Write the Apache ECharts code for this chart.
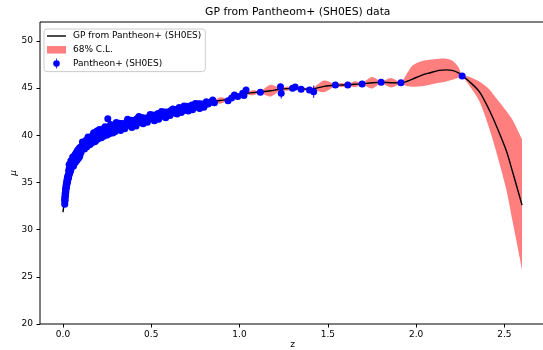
<!DOCTYPE html>
<html>
<head>
<meta charset="utf-8">
<script src="https://cdn.jsdelivr.net/npm/echarts@6/dist/echarts.min.js"></script>
<style>
  html, body { margin: 0; padding: 0; background: #fff; }
  #chart { width: 543px; height: 350px; }
</style>
</head>
<body>
<div id="chart"></div>
<script>
// GP reconstruction (mean + 68% band)
const gpZ = [0, 0.005, 0.01, 0.02, 0.03, 0.05, 0.07, 0.1, 0.15, 0.2,
  0.3, 0.4, 0.5, 0.6, 0.7, 0.76, 0.8, 0.848, 0.89, 0.935,
  0.971, 1.0, 1.037, 1.078, 1.118, 1.175, 1.232, 1.27, 1.3, 1.349,
  1.396, 1.42, 1.48, 1.543, 1.578, 1.613, 1.653, 1.694, 1.75, 1.802,
  1.858, 1.914, 1.95, 1.98, 2.03, 2.075, 2.13, 2.17, 2.21, 2.24,
  2.261, 2.3, 2.358, 2.415, 2.453, 2.51, 2.547, 2.6];
const gpMu = [31.85, 32.5, 33.1, 34.7, 35.6, 36.95, 37.7, 38.55, 39.45, 40.08,
  40.86, 41.37, 41.86, 42.37, 42.86, 43.1, 43.3, 43.55, 43.68, 43.8,
  44.05, 44.22, 44.42, 44.52, 44.58, 44.72, 44.88, 44.94, 44.96, 44.92,
  44.88, 44.92, 45.18, 45.3, 45.32, 45.34, 45.4, 45.45, 45.56, 45.6,
  45.57, 45.55, 45.72, 45.95, 46.35, 46.6, 46.88, 46.93, 46.85, 46.6,
  46.3, 45.72, 44.62, 42.65, 41.06, 38.4, 36.08, 32.6];
const gpLo = [31.6, 32.38, 33.02, 34.64, 35.55, 36.91, 37.66, 38.51, 39.41, 40.04,
  40.82, 41.32, 41.81, 42.31, 42.79, 43.02, 43.22, 43.49, 43.33, 43.7,
  43.93, 44.04, 44.32, 44.24, 44.48, 44.1, 44.73, 44.72, 44.86, 44.8,
  44.74, 44.76, 44.56, 45.18, 45.1, 45.24, 45.08, 45.35, 44.96, 45.48,
  45.07, 45.43, 45.2, 45.15, 45.2, 45.33, 45.55, 45.7, 45.92, 46.1,
  46.2, 45.3, 43.6, 40.7, 38.3, 34.3, 30.8, 25.76];
const gpHi = [32.1, 32.62, 33.18, 34.76, 35.65, 36.99, 37.74, 38.59, 39.49, 40.12,
  40.9, 41.42, 41.91, 42.43, 42.93, 43.18, 43.38, 43.61, 44.03, 43.9,
  44.17, 44.4, 44.52, 44.8, 44.68, 45.34, 45.03, 45.16, 45.06, 45.04,
  45.02, 45.08, 45.8, 45.42, 45.54, 45.44, 45.72, 45.55, 46.16, 45.72,
  46.07, 45.67, 46.6, 47.4, 47.85, 48.0, 48.1, 48.1, 47.85, 47.2,
  46.4, 46.2, 45.69, 44.85, 43.95, 42.6, 41.6, 39.56];

// Pantheon+ (SH0ES) supernovae: redshift, distance modulus, 1-sigma error
const obsZ = [
  0.0100, 0.0102, 0.0105, 0.0110, 0.0115, 0.0120, 0.0125, 0.0130, 0.0140, 0.0145,
  0.0150, 0.0160, 0.0165, 0.0170, 0.0180, 0.0185, 0.0195, 0.0200, 0.0210, 0.0220,
  0.0230, 0.0240, 0.0250, 0.0260, 0.0270, 0.0280, 0.0290, 0.0300,
  0.031, 0.032, 0.034, 0.035, 0.037, 0.038, 0.040, 0.041, 0.043, 0.044,
  0.046, 0.047, 0.049, 0.050, 0.052, 0.054, 0.056, 0.058, 0.060, 0.062,
  0.064, 0.066, 0.068, 0.070, 0.073, 0.075, 0.078, 0.081, 0.084, 0.087,
  0.090, 0.093, 0.096, 0.100, 0.048, 0.063, 0.077, 0.091,
  0.060, 0.070, 0.080, 0.088, 0.095, 0.045, 0.055, 0.035,
  0.102, 0.106, 0.110, 0.114, 0.118, 0.122, 0.126, 0.130, 0.134, 0.138,
  0.142, 0.146, 0.150, 0.154, 0.158, 0.162, 0.166, 0.170, 0.174, 0.178,
  0.182, 0.186, 0.190, 0.194, 0.198, 0.202, 0.206, 0.210, 0.214, 0.218,
  0.222, 0.226, 0.230, 0.234, 0.238, 0.242, 0.246, 0.250, 0.254, 0.258,
  0.262, 0.266, 0.270, 0.274, 0.278, 0.282, 0.286, 0.290, 0.294, 0.298,
  0.254,
  0.108, 0.120, 0.132, 0.144, 0.156, 0.168, 0.180, 0.192, 0.204, 0.216,
  0.228, 0.240, 0.252, 0.264, 0.276, 0.288,
  0.302, 0.310, 0.318, 0.326, 0.334, 0.342, 0.350, 0.358, 0.366, 0.374,
  0.382, 0.390, 0.398, 0.406, 0.414, 0.422, 0.430, 0.438, 0.446, 0.454,
  0.462, 0.470, 0.478, 0.486, 0.494, 0.502, 0.510, 0.518, 0.526, 0.534,
  0.542, 0.550, 0.558, 0.566, 0.574, 0.582, 0.590, 0.598, 0.606, 0.614,
  0.622, 0.630, 0.638, 0.646, 0.654, 0.662, 0.670, 0.678, 0.686, 0.694,
  0.702, 0.710, 0.718, 0.726, 0.734, 0.742, 0.750, 0.758, 0.766, 0.774,
  0.782, 0.790, 0.798,
  0.306, 0.338, 0.362, 0.394, 0.418, 0.442, 0.466, 0.490, 0.514, 0.538,
  0.562, 0.586, 0.610, 0.634, 0.658, 0.682, 0.706, 0.730, 0.754, 0.778,
  0.806, 0.812, 0.822, 0.835, 0.848, 0.858, 0.935, 0.955, 0.971, 0.990,
  1.018, 1.025, 1.037, 1.118, 1.232, 1.236, 1.300, 1.315, 1.349, 1.396,
  1.420, 1.543, 1.613, 1.694, 1.802, 1.914, 2.261];
const obsMu = [
  32.70, 33.10, 33.35, 32.95, 33.55, 33.20, 33.85, 33.50, 34.00, 33.70,
  34.25, 33.95, 34.50, 34.20, 34.70, 34.40, 34.90, 34.55, 35.05, 34.75,
  35.25, 34.95, 35.45, 35.10, 35.60, 35.30, 35.75, 35.45,
  35.55, 36.20, 35.75, 36.45, 35.95, 36.60, 36.10, 36.80, 36.25, 36.95,
  36.45, 37.05, 36.60, 37.25, 36.75, 37.40, 36.90, 37.55, 37.05, 37.70,
  37.20, 37.85, 37.35, 38.00, 37.50, 38.15, 37.65, 38.35, 37.80, 38.50,
  37.95, 38.65, 38.10, 38.75, 36.85, 37.45, 37.90, 38.30,
  36.75, 37.10, 37.35, 37.55, 37.75, 37.30, 37.70, 36.90,
  38.15, 38.80, 39.28, 38.68, 39.26, 38.53, 39.29, 39.10, 38.76, 39.37,
  39.81, 39.19, 39.75, 39.01, 39.77, 39.58, 39.24, 39.85, 40.27, 39.63,
  40.17, 39.42, 40.17, 39.96, 39.61, 40.20, 40.61, 39.97, 40.51, 39.74,
  40.48, 40.26, 39.90, 40.49, 40.90, 40.26, 40.79, 40.02, 40.75, 40.53,
  40.16, 40.74, 41.15, 40.50, 41.03, 40.25, 40.98, 40.75, 40.37, 40.95,
  41.75,
  38.50, 39.00, 39.50, 38.95, 39.35, 40.00, 39.30, 40.45, 39.80, 40.30,
  40.65, 40.00, 40.35, 40.95, 40.30, 40.55,
  41.35, 40.71, 41.26, 40.50, 41.25, 41.04, 40.68, 41.27, 41.69, 41.04,
  41.58, 40.82, 41.56, 41.35, 40.98, 41.57, 41.99, 41.35, 41.89, 41.23,
  41.83, 41.67, 41.39, 41.87, 42.21, 41.71, 42.15, 41.54, 42.14, 41.98,
  41.70, 42.18, 42.52, 42.02, 42.46, 41.86, 42.46, 42.30, 42.09, 42.49,
  42.77, 42.37, 42.74, 42.25, 42.75, 42.64, 42.42, 42.83, 43.11, 42.70,
  43.07, 42.57, 43.06, 42.93, 42.71, 43.10, 43.37, 42.97, 43.33, 42.84,
  43.33, 43.21, 42.98,
  41.00, 41.20, 41.45, 41.15, 41.75, 41.60, 41.45, 42.00, 41.85, 42.30,
  42.25, 42.10, 42.60, 42.55, 42.95, 42.60, 42.85, 43.20, 43.15, 43.05,
  43.25, 43.55, 43.30, 43.50, 43.73, 43.45, 43.66, 43.95, 44.26, 44.10,
  44.44, 44.20, 44.79, 44.55, 45.15, 44.44, 44.97, 45.10, 44.87, 44.79,
  44.62, 45.33, 45.33, 45.44, 45.62, 45.55, 46.28];
const obsErr = [
  0.15, 0.16, 0.14, 0.15, 0.15, 0.14, 0.15, 0.13, 0.14, 0.15,
  0.13, 0.14, 0.13, 0.14, 0.13, 0.12, 0.13, 0.12, 0.13, 0.12,
  0.12, 0.12, 0.12, 0.11, 0.12, 0.11, 0.11, 0.11,
  0.12, 0.11, 0.13, 0.12, 0.12, 0.11, 0.13, 0.12, 0.12, 0.13,
  0.12, 0.11, 0.12, 0.13, 0.12, 0.12, 0.13, 0.12, 0.12, 0.13,
  0.12, 0.12, 0.13, 0.12, 0.13, 0.12, 0.13, 0.12, 0.13, 0.12,
  0.13, 0.12, 0.13, 0.12, 0.12, 0.13, 0.12, 0.13,
  0.13, 0.12, 0.13, 0.14, 0.13, 0.12, 0.13, 0.12,
  0.14, 0.15, 0.13, 0.15, 0.14, 0.13, 0.15, 0.14, 0.14, 0.15,
  0.14, 0.13, 0.15, 0.14, 0.15, 0.14, 0.16, 0.14, 0.15, 0.16,
  0.14, 0.15, 0.16, 0.15, 0.14, 0.16, 0.15, 0.16, 0.15, 0.14,
  0.16, 0.15, 0.16, 0.15, 0.16, 0.15, 0.17, 0.16, 0.15, 0.16,
  0.17, 0.16, 0.15, 0.17, 0.16, 0.17, 0.16, 0.17, 0.16, 0.17,
  0.30,
  0.14, 0.15, 0.15, 0.14, 0.15, 0.16, 0.15, 0.16, 0.15, 0.16,
  0.16, 0.17, 0.16, 0.17, 0.16, 0.17,
  0.16, 0.17, 0.16, 0.18, 0.17, 0.16, 0.18, 0.17, 0.18, 0.17,
  0.18, 0.17, 0.19, 0.18, 0.17, 0.19, 0.18, 0.19, 0.18, 0.20,
  0.19, 0.18, 0.20, 0.19, 0.20, 0.19, 0.21, 0.20, 0.19, 0.21,
  0.20, 0.21, 0.20, 0.22, 0.21, 0.20, 0.22, 0.21, 0.22, 0.21,
  0.23, 0.22, 0.21, 0.23, 0.22, 0.23, 0.22, 0.24, 0.23, 0.22,
  0.24, 0.23, 0.25, 0.24, 0.25, 0.24, 0.25, 0.24, 0.25, 0.24,
  0.25, 0.24, 0.25,
  0.17, 0.18, 0.17, 0.18, 0.19, 0.18, 0.19, 0.20, 0.19, 0.21,
  0.20, 0.21, 0.22, 0.21, 0.22, 0.23, 0.22, 0.24, 0.23, 0.24,
  0.25, 0.22, 0.26, 0.24, 0.25, 0.23, 0.22, 0.24, 0.20, 0.25,
  0.30, 0.22, 0.35, 0.15, 0.20, 0.55, 0.20, 0.18, 0.15, 0.18,
  0.65, 0.15, 0.14, 0.15, 0.16, 0.15, 0.18];

const xTicks = [0, 0.5, 1.0, 1.5, 2.0, 2.5];
const yTicks = [20, 25, 30, 35, 40, 45, 50];

const FONT = 'DejaVu Sans';
const BAND = 'rgba(255,0,0,0.5)';
const chart = echarts.init(document.getElementById('chart'));

const axisText = { fontSize: 9, color: '#000', fontFamily: FONT };

chart.setOption({
  animation: false,
  textStyle: { fontFamily: FONT },
  title: {
    text: 'GP from Pantheom+ (SH0ES) data',
    left: 292.8,
    textAlign: 'center',
    top: 2,
    textStyle: { fontSize: 10.8, fontWeight: 'normal', color: '#000', fontFamily: FONT }
  },
  grid: {
    left: 40, right: -2, top: 22, bottom: 26,
    outerBoundsMode: 'none',
    show: true, borderColor: '#000', borderWidth: 1
  },
  legend: {
    orient: 'vertical',
    left: 44, top: 29,
    padding: [2, 4, 3, 3],
    itemWidth: 19, itemHeight: 10, itemGap: 3.8,
    backgroundColor: 'rgba(255,255,255,0.8)',
    borderColor: '#cccccc', borderWidth: 1, borderRadius: 3,
    textStyle: { fontSize: 9, color: '#000', fontFamily: FONT, lineHeight: 10, padding: [0, 0, 0, 2] },
    data: [
      { name: 'GP from Pantheon+ (SH0ES)', icon: 'path://M0,0H19V1.4H0Z', itemStyle: { color: '#000' } },
      { name: '68% C.L.', icon: 'path://M0,0H19V7.5H0Z', itemStyle: { color: BAND } },
      { name: 'Pantheon+ (SH0ES)', icon: 'path://M2.6,0H3.4V10H2.6Z M3,1.7A3.3,3.3,0,1,1,2.99,1.7Z' }
    ]
  },
  xAxis: {
    type: 'value', min: -0.13, max: 2.73,
    name: 'z', nameLocation: 'middle', nameGap: 16, nameMoveOverlap: false,
    nameTextStyle: axisText,
    axisLine: { show: false, onZero: false },
    axisTick: { show: true, length: 3.5, customValues: xTicks, lineStyle: { color: '#000', width: 1 } },
    axisLabel: Object.assign({ margin: 6, customValues: xTicks, formatter: v => v.toFixed(1) }, axisText),
    splitLine: { show: false }
  },
  yAxis: {
    type: 'value', min: 20, max: 52,
    name: 'μ', nameLocation: 'middle', nameGap: 22, nameRotate: 90, nameMoveOverlap: false,
    nameTextStyle: Object.assign({ fontStyle: 'italic' }, axisText),
    axisLine: { show: false, onZero: false },
    axisTick: { show: true, length: 3.5, customValues: yTicks, lineStyle: { color: '#000', width: 1 } },
    axisLabel: Object.assign({ margin: 7, customValues: yTicks }, axisText),
    splitLine: { show: false }
  },
  series: [
    {
      name: '68% C.L.', type: 'custom', silent: true, z: 1,
      itemStyle: { color: BAND },
      data: [[0, 30]],
      renderItem: (params, api) => {
        const up = gpZ.map((z, i) => api.coord([z, gpHi[i]]));
        const dn = gpZ.map((z, i) => api.coord([z, gpLo[i]])).reverse();
        const pts = [up[0]].concat(up, [up[up.length - 1], dn[0]], dn, [dn[dn.length - 1]]);
        return {
          type: 'polygon',
          shape: { points: pts, smooth: 0.3 },
          style: { fill: BAND }
        };
      }
    },
    {
      name: 'GP from Pantheon+ (SH0ES)', type: 'line', smooth: 0.3,
      symbol: 'none', itemStyle: { color: '#000' },
      lineStyle: { color: '#000', width: 1.4 },
      data: gpZ.map((z, i) => [z, gpMu[i]]), z: 2
    },
    {
      name: 'errbars', type: 'custom', silent: true, z: 3,
      data: obsZ.map((z, i) => [z, obsMu[i] - obsErr[i], obsMu[i] + obsErr[i]]),
      encode: { x: 0, y: [1, 2] },
      renderItem: (params, api) => {
        const lo = api.coord([api.value(0), api.value(1)]);
        const hi = api.coord([api.value(0), api.value(2)]);
        return {
          type: 'line',
          shape: { x1: lo[0], y1: lo[1], x2: hi[0], y2: hi[1] },
          style: { stroke: '#0000ff', lineWidth: 1 }
        };
      }
    },
    {
      name: 'Pantheon+ (SH0ES)', type: 'scatter', z: 4,
      symbolSize: 7, itemStyle: { color: '#0000ff', opacity: 1 },
      data: obsZ.map((z, i) => [z, obsMu[i]])
    }
  ]
});
</script>
</body>
</html>
